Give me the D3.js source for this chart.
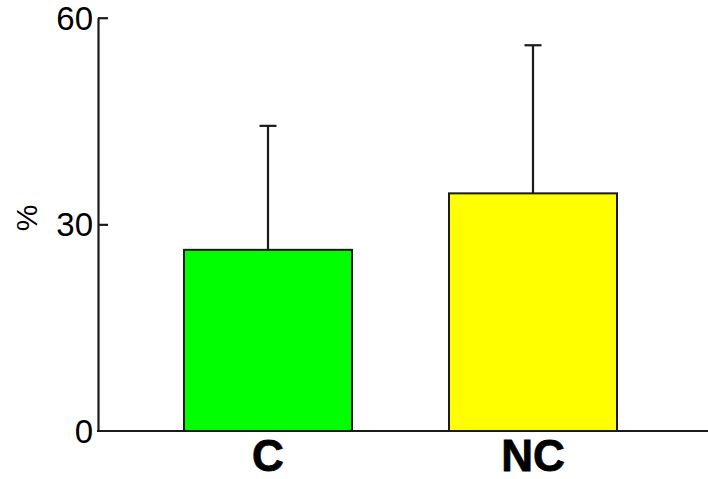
<!DOCTYPE html>
<html>
<head>
<meta charset="utf-8">
<script src="https://cdn.jsdelivr.net/npm/d3@7"></script>
<style>
  html, body { margin: 0; padding: 0; background: #ffffff; }
  svg { display: block; }
</style>
</head>
<body>
<svg id="chart" width="708" height="479"></svg>
<script>
// Group means (%) with upper error bars
const categories = ["C", "NC"];
const means = [26.3, 34.5];
const upperErrors = [44.3, 56.0];
const barColors = ["#00ff00", "#ffff00"];
const yTicks = [0, 30, 60];
const yLabel = "%";

const svg = d3.select("#chart");
const width = 708, height = 479;
const margin = { left: 98, top: 17.7 };

const y = d3.scaleLinear().domain([0, 60]).range([431, margin.top]);
const x = d3.scaleBand().domain(categories)
  .range([margin.left, 703]).paddingInner(0.366).paddingOuter(0.3245);

const ink = "#1a1a1a";

// bars
svg.append("g").selectAll("rect")
  .data(categories)
  .join("rect")
  .attr("x", d => x(d))
  .attr("y", (d, i) => y(means[i]))
  .attr("width", x.bandwidth())
  .attr("height", (d, i) => y(0) - y(means[i]))
  .attr("fill", (d, i) => barColors[i])
  .attr("stroke", ink)
  .attr("stroke-width", 2);

// error bars
const eb = svg.append("g").attr("stroke", ink).attr("stroke-width", 2.2);
categories.forEach((c, i) => {
  const cx = x(c) + x.bandwidth() / 2;
  eb.append("line").attr("x1", cx).attr("x2", cx)
    .attr("y1", y(means[i])).attr("y2", y(upperErrors[i]));
  eb.append("line").attr("x1", cx - 8.5).attr("x2", cx + 8.5)
    .attr("y1", y(upperErrors[i])).attr("y2", y(upperErrors[i]));
});

// y axis
const yAxis = d3.axisRight(y).tickValues(yTicks).tickSize(10).tickSizeOuter(0).tickFormat("");
const ya = svg.append("g").attr("transform", `translate(${margin.left},0)`).call(yAxis);
ya.select(".domain").attr("stroke", ink).attr("stroke-width", 2.2);
ya.selectAll(".tick line").attr("stroke", ink).attr("stroke-width", 2.2)
  .filter(d => d === 0).remove();

svg.append("g").selectAll("text")
  .data(yTicks)
  .join("text")
  .attr("x", margin.left - 5)
  .attr("y", d => y(d))
  .attr("dy", "0.36em")
  .attr("text-anchor", "end")
  .attr("font-family", "Liberation Sans, Arial, sans-serif")
  .attr("font-size", 33)
  .attr("fill", "#000")
  .text(d => d);

// x axis baseline
svg.append("line")
  .attr("x1", margin.left - 1).attr("x2", width)
  .attr("y1", y(0)).attr("y2", y(0))
  .attr("stroke", ink).attr("stroke-width", 2.2);

// category labels
svg.append("g").selectAll("text")
  .data(categories)
  .join("text")
  .attr("x", d => x(d) + x.bandwidth() / 2)
  .attr("y", 471)
  .attr("text-anchor", "middle")
  .attr("font-family", "Liberation Sans, Arial, sans-serif")
  .attr("font-weight", "bold")
  .attr("font-size", 44)
  .attr("stroke", "#000")
  .attr("stroke-width", 0.8)
  .attr("fill", "#000")
  .text(d => d);

// y axis title
svg.append("text")
  .attr("transform", "translate(37,218) rotate(-90)")
  .attr("text-anchor", "middle")
  .attr("font-family", "Liberation Sans, Arial, sans-serif")
  .attr("font-size", 30)
  .attr("fill", "#000")
  .text(yLabel);
</script>
</body>
</html>
